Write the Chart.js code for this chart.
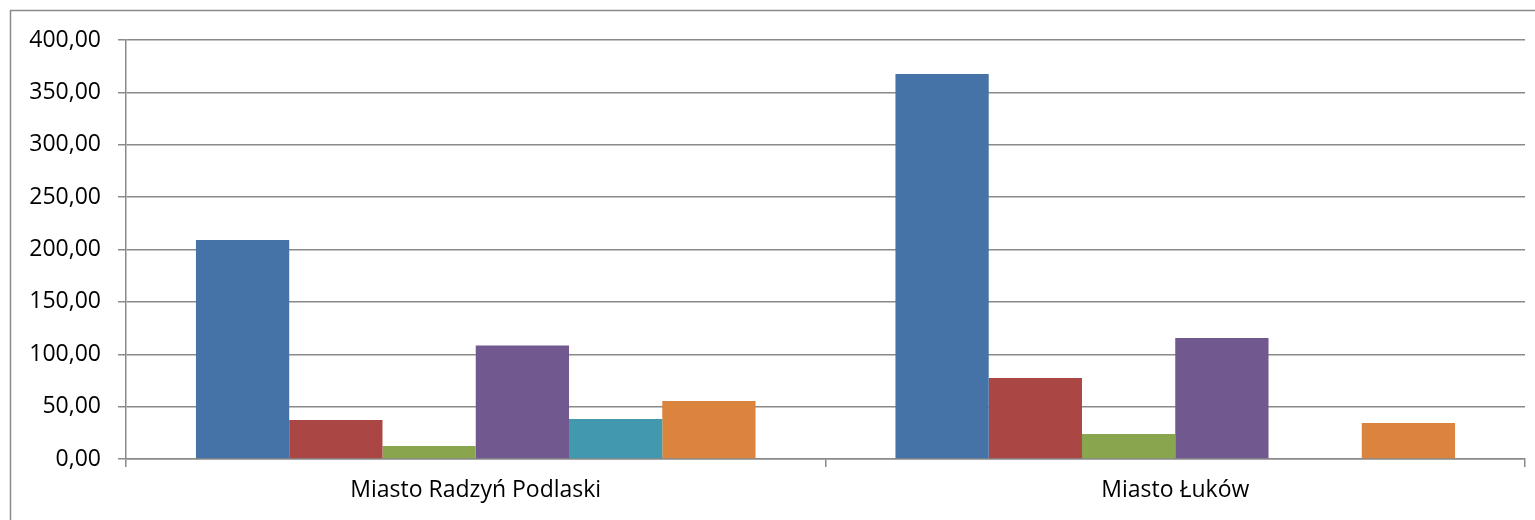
<!DOCTYPE html>
<html>
<head>
<meta charset="utf-8">
<script src="https://cdn.jsdelivr.net/npm/chart.js@4/dist/chart.umd.min.js"></script>
<style>
  html, body { margin: 0; padding: 0; background: #ffffff; }
  canvas { display: block; }
</style>
</head>
<body>
<canvas id="chart" width="1535" height="520"></canvas>
<script>
// categories and series values
const categories = ['Miasto Radzyń Podlaski', 'Miasto Łuków'];
const seriesNames = ['Seria 1', 'Seria 2', 'Seria 3', 'Seria 4', 'Seria 5', 'Seria 6'];
const series1 = [209.1, 367.5];
const series2 = [37.2, 77.3];
const series3 = [12.4, 23.9];
const series4 = [108.3, 115.5];
const series5 = [38.2, null];
const series6 = [55.4, 34.4];
const yTicks = [0, 50, 100, 150, 200, 250, 300, 350, 400];

const colours = ['#4572A7', '#AA4643', '#89A54E', '#71588F', '#4198AF', '#DB843D'];
const values = [series1, series2, series3, series4, series5, series6];
const gridColour = '#8a8a8a';
const fontFamily = '"Open Sans", "Liberation Sans", sans-serif';

// outer frame of the chart object
const frame = {
	id: 'frame',
	beforeDraw(chart){
		const ctx = chart.ctx;
		ctx.save();
		ctx.strokeStyle = '#8a8a8a';
		ctx.lineWidth = 1.5;
		ctx.strokeRect(10.5, 10.5, 1560, 560);
		ctx.restore();
	}
};

const datasets = values.map(function(v, i){
	return {
		label: seriesNames[i],
		data: v,
		backgroundColor: colours[i],
		borderWidth: 0,
		barPercentage: 1,
		categoryPercentage: 0.8
	};
});

new Chart(document.getElementById('chart'), {
	type: 'bar',
	data: { labels: categories, datasets: datasets },
	plugins: [frame],
	options: {
		responsive: false,
		animation: false,
		devicePixelRatio: 1,
		layout: { padding: { left: 10, top: 40, right: 10, bottom: 0 } },
		plugins: { legend: { display: false }, tooltip: { enabled: false } },
		scales: {
			x: {
				grid: { offset: true, drawOnChartArea: false, drawTicks: true, tickLength: 8, color: gridColour, lineWidth: 1.5 },
				border: { display: true, color: gridColour, width: 1.5 },
				ticks: { color: '#000000', padding: 10, font: { family: fontFamily, size: 23 } },
				afterFit: function(s){ s.height = 520 - 459; }
			},
			y: {
				min: 0,
				max: 400,
				afterBuildTicks: function(s){ s.ticks = yTicks.map(function(v){ return { value: v }; }); },
				grid: { color: gridColour, lineWidth: 1.5, tickLength: 8 },
				border: { display: true, color: gridColour, width: 1.5 },
				ticks: {
					color: '#000000',
					padding: 17,
					font: { family: fontFamily, size: 23 },
					callback: function(v){ return v.toFixed(2).replace('.', ','); }
				},
				afterFit: function(s){ s.width = 126 - 10; }
			}
		}
	}
});
</script>
</body>
</html>
